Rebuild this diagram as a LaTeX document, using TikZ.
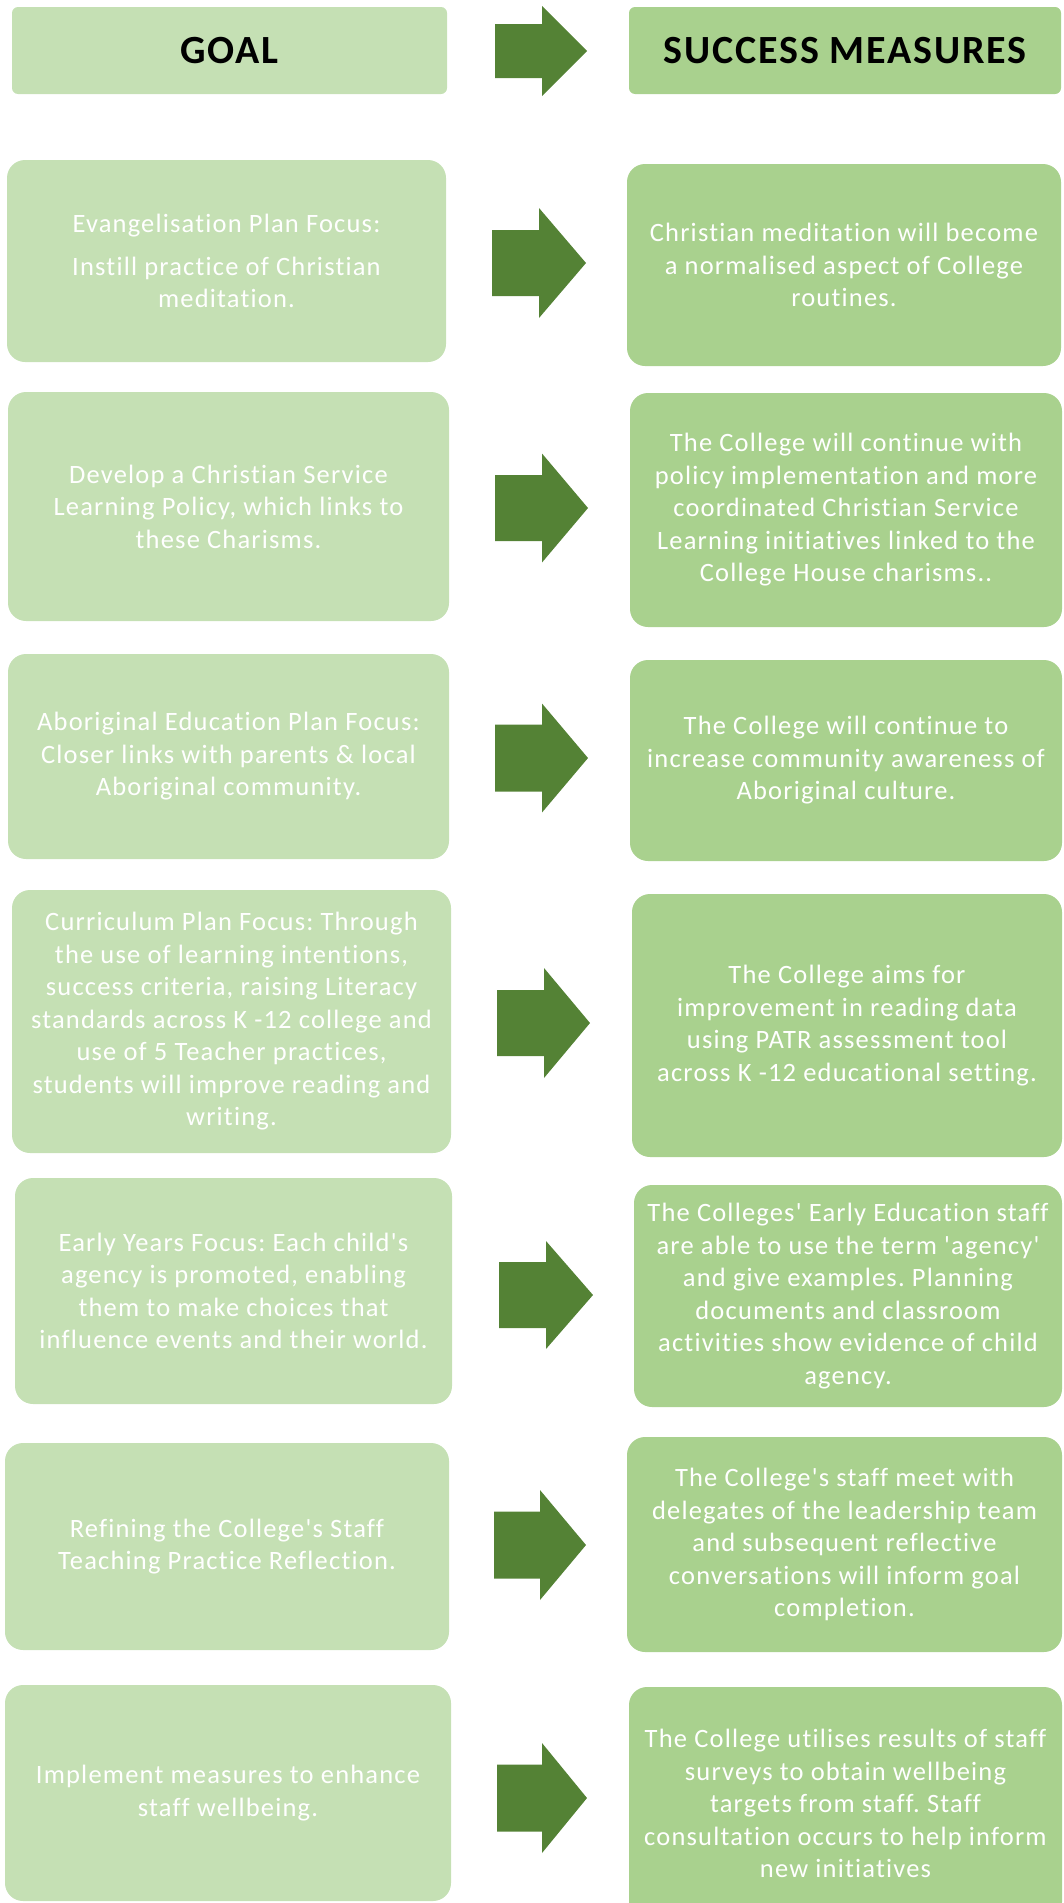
\documentclass[tikz,border=0pt]{standalone}
\usepackage{fontspec}
\setmainfont{Carlito}[Ligatures={TeXOff,NoCommon}, LetterSpace=4.5]
\frenchspacing
\definecolor{goalfill}{HTML}{C5E0B4}
\definecolor{measfill}{HTML}{A9D18E}
\definecolor{arrowfill}{HTML}{548235}
\tikzset{
  goalbox/.style={fill=goalfill, rounded corners=18pt, inner sep=0pt, outer sep=0pt,
    text=white, align=center, font=\fontsize{26.5}{32.5}\selectfont\frenchspacing},
  measbox/.style={goalbox, fill=measfill},
  headgoal/.style={goalbox, text=black, font=\fontsize{40}{48}\selectfont\bfseries, rounded corners=6pt},
  headmeas/.style={headgoal, fill=measfill},
  blockarrow/.style={fill=arrowfill},
}
% style, name, cx, cy, w, h, text
\newcommand\rbox[7]{\node[#1, minimum width=#5pt, minimum height=#6pt] (#2) at (#3,#4) {#7};}
% name, x0, xs, xt, yc, hs, hh
\newcommand\barrow[7]{%
  \coordinate (#1) at (#2,#5);
  \fill[blockarrow] (#2,#5-#6) -- (#3,#5-#6) -- (#3,#5-#7) -- (#4,#5) -- (#3,#5+#7)
    -- (#3,#5+#6) -- (#2,#5+#6) -- cycle;}
\begin{document}
\begin{tikzpicture}[x=1pt,y=-1pt]
\useasboundingbox (0,0) rectangle (1063,1903);
\clip (0,0) rectangle (1063,1903);

% header
\rbox{headgoal}{goal}{229.5}{50.5}{435}{87}{GOAL}
\rbox{headmeas}{meas}{845}{50.5}{432}{87}{SUCCESS MEASURES}
\barrow{a0}{495}{542}{587}{51}{27}{45}

% row 1
\rbox{goalbox}{g1}{226.5}{261}{439}{202}{Evangelisation Plan Focus:\\[10pt]Instill practice of Christian\\meditation.}
\rbox{measbox}{m1}{844}{265}{434}{202}{Christian meditation will become\\a normalised aspect of College\\routines.}
\barrow{a1}{492}{539}{586}{263}{33}{55}

% row 2
\rbox{goalbox}{g2}{228.5}{506.5}{441}{229}{Develop a Christian Service\\Learning Policy, which links to\\these Charisms.}
\rbox{measbox}{m2}{846}{510}{432}{234}{The College will continue with\\policy implementation and more\\coordinated Christian Service\\Learning initiatives linked to the\\College House charisms..}
\barrow{a2}{495}{542}{588}{508}{33}{54.5}

% row 3
\rbox{goalbox}{g3}{228.5}{756.5}{441}{205}{Aboriginal Education Plan Focus:\\Closer links with parents \& local\\Aboriginal community.}
\rbox{measbox}{m3}{846}{760.5}{432}{201}{The College will continue to\\increase community awareness of\\Aboriginal culture.}
\barrow{a3}{495}{542}{588}{758}{33.5}{54.5}

% row 4
\rbox{goalbox}{g4}{231.5}{1021.5}{439}{263}{Curriculum Plan Focus: Through\\the use of learning intentions,\\success criteria, raising Literacy\\standards across K -12 college and\\use of 5 Teacher practices,\\students will improve reading and\\writing.}
\rbox{measbox}{m4}{847}{1025.5}{430}{263}{The College aims for\\improvement in reading data\\using PATR assessment tool\\across K -12 educational setting.}
\barrow{a4}{497}{544}{590}{1023}{33}{55}

% row 5
\rbox{goalbox}{g5}{233.5}{1291}{437}{226}{Early Years Focus: Each child's\\agency is promoted, enabling\\them to make choices that\\influence events and their world.}
\rbox{measbox}{m5}{848}{1296}{428}{222}{The Colleges' Early Education staff\\are able to use the term 'agency'\\and give examples. Planning\\documents and classroom\\activities show evidence of child\\agency.}
\barrow{a5}{499}{546}{593}{1295}{33}{54}

% row 6
\rbox{goalbox}{g6}{227}{1546.5}{444}{207}{Refining the College's Staff\\Teaching Practice Reflection.}
\rbox{measbox}{m6}{844.5}{1544.5}{435}{215}{The College's staff meet with\\delegates of the leadership team\\and subsequent reflective\\conversations will inform goal\\completion.}
\barrow{a6}{494}{540}{586}{1545}{33.5}{55}

% row 7
\rbox{goalbox}{g7}{228}{1793}{446}{216}{Implement measures to enhance\\staff wellbeing.}
\rbox{measbox}{m7}{845.5}{1803.5}{433}{233}{The College utilises results of staff\\surveys to obtain wellbeing\\targets from staff. Staff\\consultation occurs to help inform\\new initiatives}
\barrow{a7}{497}{542}{587}{1798}{33.5}{55}
\end{tikzpicture}
\end{document}
